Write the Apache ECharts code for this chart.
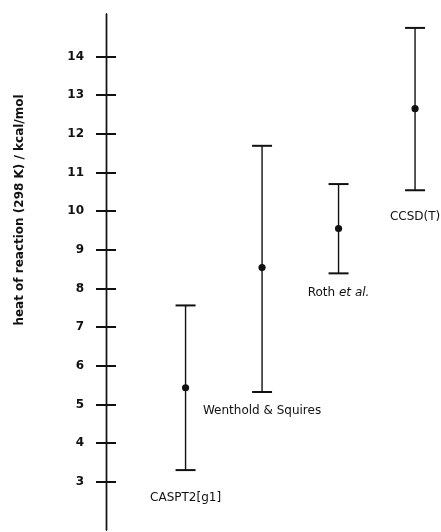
<!DOCTYPE html>
<html>
<head>
<meta charset="utf-8">
<script src="https://cdn.jsdelivr.net/npm/echarts@6/dist/echarts.min.js"></script>
<style>
html,body{margin:0;padding:0;background:#fff;}
#c{width:441px;height:532px;}
</style>
</head>
<body>
<div id="c"></div>
<script>
// ---- data ----
const categories = ['CASPT2[g1]', 'Wenthold & Squires', 'Roth et al.', 'CCSD(T)'];
const centers = [5.43, 8.54, 9.55, 12.65];
const lows = [3.30, 5.32, 8.39, 10.54];
const highs = [7.56, 11.69, 10.70, 14.74];
const yTicks = [3, 4, 5, 6, 7, 8, 9, 10, 11, 12, 13, 14];
const yTitle = 'heat of reaction (298 K) / kcal/mol';

// ---- layout (not data) ----
const labelGap = [28, 19, 20, 27];
const ink = '#111';

const chart = echarts.init(document.getElementById('c'), null, {renderer: 'canvas'});

const yBase = {
  type: 'value', min: 1.75, max: 15.1, position: 'left', offset: 0,
  splitLine: {show: false},
  axisLine: {show: true, onZero: false, lineStyle: {color: ink, width: 1.4}}
};

chart.setOption({
  animation: false,
  backgroundColor: '#fff',
  grid: {left: 106, right: 3, top: 14, bottom: 2, containLabel: false},
  xAxis: {type: 'value', min: -0.04, max: 4.3, show: false},
  yAxis: [
    Object.assign({}, yBase, {
      axisTick: {show: true, inside: false, length: 10, customValues: yTicks, lineStyle: {color: ink, width: 2}},
      axisLabel: {show: true, margin: 22, customValues: yTicks, color: ink,
        fontFamily: 'DejaVu Sans', fontWeight: 'bold', fontSize: 12}
    }),
    Object.assign({}, yBase, {
      axisTick: {show: true, inside: true, length: 10, customValues: yTicks, lineStyle: {color: ink, width: 2}},
      axisLabel: {show: false}
    })
  ],
  graphic: [{
    type: 'text', x: 20, y: 210, rotation: Math.PI / 2,
    style: {text: yTitle, align: 'center', verticalAlign: 'middle',
      fill: ink, font: 'bold 12px "DejaVu Sans"'}
  }],
  series: [{
    type: 'custom',
    xAxisIndex: 0, yAxisIndex: 0,
    data: categories.map((c, i) => [i + 1, lows[i], highs[i], centers[i]]),
    encode: {x: 0, y: [1, 2, 3]},
    renderItem: function (params, api) {
      const i = params.dataIndex;
      const x = api.value(0);
      const lo = api.coord([x, api.value(1)]);
      const hi = api.coord([x, api.value(2)]);
      const mid = api.coord([x, api.value(3)]);
      const cw = 10;
      const name = categories[i];
      let textStyle;
      if (name === 'Roth et al.') {
        textStyle = {
          text: '{n|Roth }{i|et al.}',
          rich: {
            n: {fontFamily: 'DejaVu Sans', fontSize: 12, fill: ink, color: ink},
            i: {fontFamily: 'DejaVu Sans', fontSize: 12, fontStyle: 'italic', fill: ink, color: ink}
          }
        };
      } else {
        textStyle = {text: name};
      }
      return {
        type: 'group',
        children: [
          {type: 'line', shape: {x1: lo[0], y1: lo[1], x2: hi[0], y2: hi[1]},
            style: {stroke: ink, lineWidth: 1.4}},
          {type: 'line', shape: {x1: hi[0] - cw, y1: hi[1], x2: hi[0] + cw, y2: hi[1]},
            style: {stroke: ink, lineWidth: 2}},
          {type: 'line', shape: {x1: lo[0] - cw, y1: lo[1], x2: lo[0] + cw, y2: lo[1]},
            style: {stroke: ink, lineWidth: 2}},
          {type: 'circle', shape: {cx: mid[0], cy: mid[1], r: 3.6},
            style: {fill: ink, stroke: null}},
          {type: 'text',
            style: Object.assign({
              x: lo[0], y: lo[1] + labelGap[i],
              align: 'center', verticalAlign: 'middle',
              fill: ink, font: '12px "DejaVu Sans"'
            }, textStyle)}
        ]
      };
    }
  }]
});
</script>
</body>
</html>
